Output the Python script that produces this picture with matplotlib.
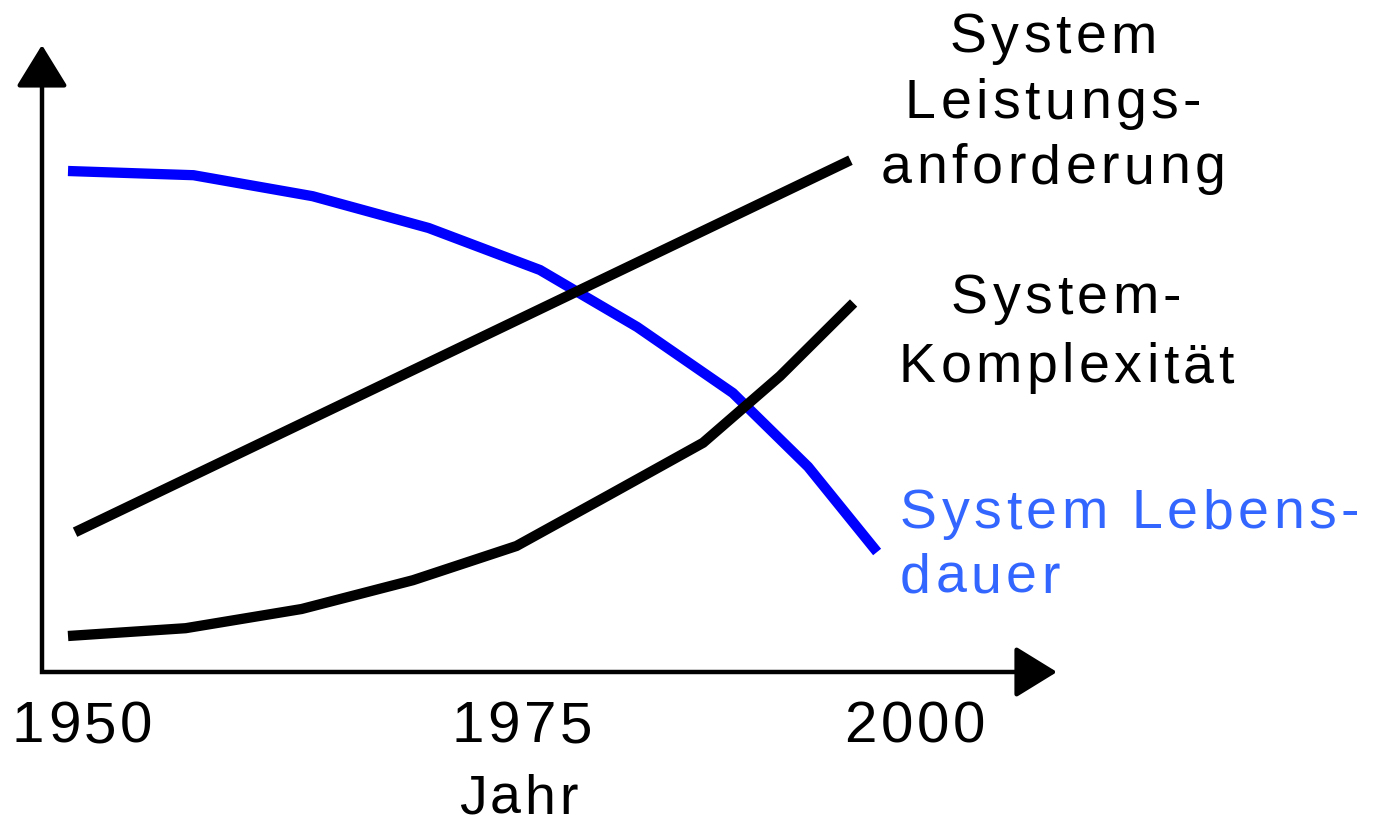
import matplotlib
matplotlib.use('Agg')
import matplotlib.pyplot as plt
from matplotlib import font_manager, transforms
from matplotlib.ft2font import FT2Font

# data (x in years, y in arbitrary units)
years_dauer = [1950, 1958, 1965.6, 1973, 1980.1, 1986.3, 1992.4, 1997.2, 2001.6]
lebensdauer = [83.5, 82.8, 79.3, 74, 67, 57.5, 46.5, 34.2, 20]

years_leistung = [1950.45, 1999.9]
leistung = [23.3, 85.3]

years_kompl = [1950, 1957.5, 1964.9, 1972, 1978.6, 1984.5, 1990.5, 1995.4, 2000.1]
komplex = [6, 7.3, 10.5, 15.3, 21, 29.5, 38.2, 49.3, 61.5]

tick_labels = ['1950', '1975', '2000']
tick_pos = [1950.9, 1978.95, 2004.0]

FAMILY = 'Liberation Sans'
FONT_PATH = font_manager.findfont(font_manager.FontProperties(family=FAMILY))
BLUE_LINE = '#0000ff'
BLUE_TEXT = '#3366ff'


def tracked_text(ax, x, y, s, size, color='black', ha='center', track=3.2):
    '''draw text char by char with extra letter spacing (points)'''
    font = FT2Font(FONT_PATH)
    font.set_size(size, 72)
    advs = []
    for ch in s:
        g = font.load_char(ord(ch))
        advs.append(g.linearHoriAdvance / 65536)
    total = sum(advs) + track * (len(s) - 1)
    pos = -total / 2 if ha == 'center' else 0
    for ch, a in zip(s, advs):
        tr = transforms.offset_copy(ax.transData, fig=ax.figure, x=pos, y=0, units='points')
        ax.text(x, y, ch, transform=tr, fontsize=size, ha='left', va='baseline',
                color=color, family=FAMILY)
        pos += a + track


fig = plt.figure(figsize=(13.85, 8.3), dpi=100)
ax = fig.add_axes([0, 0, 1, 1])
ax.set_xlim(1945.663, 2033.99)
ax.set_ylim(-26.333, 112)
ax.axis('off')

# axes: L-shaped line plus arrow heads
x0, y0 = 1948.34, 0
ytip, xtip = 104.5, 2013.07
ax_lw = 3.2
ax.plot([x0, x0, xtip - 2.3], [ytip - 5.8, y0, y0], color='black', lw=ax_lw,
        solid_joinstyle='miter', solid_capstyle='butt')
arrow = dict(arrowstyle='-|>,head_length=2.6,head_width=1.6', lw=ax_lw, color='black',
             mutation_scale=10, shrinkA=0, shrinkB=0)
ax.annotate('', xy=(x0, ytip), xytext=(x0, ytip - 6.2), arrowprops=arrow)
ax.annotate('', xy=(xtip, y0), xytext=(xtip - 2.45, y0), arrowprops=arrow)

lw = 7.4
ax.plot(years_dauer, lebensdauer, color=BLUE_LINE, lw=lw, solid_capstyle='butt', solid_joinstyle='miter')
ax.plot(years_leistung, leistung, color='black', lw=lw, solid_capstyle='butt')
ax.plot(years_kompl, komplex, color='black', lw=lw, solid_capstyle='butt', solid_joinstyle='miter')

# labels
for s, yy in zip(['System', 'Leistungs-', 'anforderung'], [103.17, 92.33, 81.5]):
    tracked_text(ax, 2012.82, yy, s, 40)
for s, yy in zip(['System-', 'Komplexität'], [59.83, 48.33]):
    tracked_text(ax, 2013.65, yy, s, 40)
for s, yy in zip(['System Lebens-', 'dauer'], [24, 13.17]):
    tracked_text(ax, 2003.06, yy, s, 40, color=BLUE_TEXT, ha='left')

for s, xx in zip(tick_labels, tick_pos):
    tracked_text(ax, xx, -11.67, s, 42, track=2.6)
tracked_text(ax, 1978.7, -23.6, 'Jahr', 40, track=2.6)

fig.savefig('out.png', dpi=100)
